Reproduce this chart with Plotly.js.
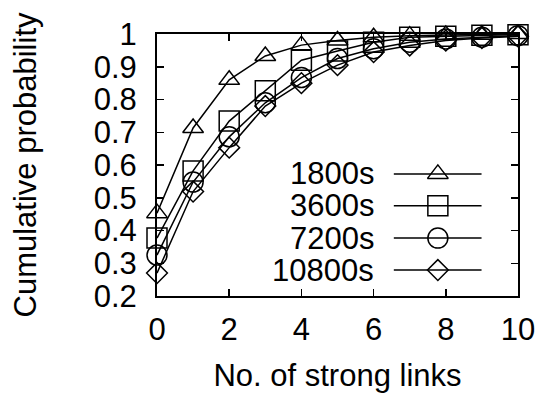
<!DOCTYPE html>
<html>
<head>
<meta charset="utf-8">
<script src="https://cdn.plot.ly/plotly-3.0.1.min.js"></script>
<style>
  html, body { margin: 0; padding: 0; background: #fff; }
  #chart { width: 541px; height: 396px; }
</style>
</head>
<body>
<div id="chart"></div>
<script>
// Number of strong links (x) and the cumulative probability for each window length
const strongLinks = [0, 1, 2, 3, 4, 5, 6, 7, 8, 9, 10];
const cdf1800  = [0.453, 0.713, 0.860, 0.933, 0.966, 0.980, 0.990, 0.995, 0.997, 0.998, 1.000];
const cdf3600  = [0.377, 0.582, 0.734, 0.827, 0.920, 0.948, 0.975, 0.990, 0.993, 0.996, 0.998];
const cdf7200  = [0.325, 0.548, 0.686, 0.790, 0.867, 0.925, 0.955, 0.975, 0.985, 0.990, 0.995];
const cdf10800 = [0.270, 0.519, 0.653, 0.780, 0.850, 0.905, 0.945, 0.965, 0.980, 0.988, 0.993];

const seriesNames = ['1800s', '3600s', '7200s', '10800s'];
const seriesSymbols = ['triangle-up-open', 'square-open', 'circle-open', 'diamond-open'];
const seriesSizes = [18, 20, 20, 16];

const xTickVals = [0, 2, 4, 6, 8, 10];
const yTickVals = [0.2, 0.3, 0.4, 0.5, 0.6, 0.7, 0.8, 0.9, 1];
const yTickText = ['0.2', '0.3', '0.4', '0.5', '0.6', '0.7', '0.8', '0.9', '1'];

const FONT = 'Liberation Sans, Arial, Helvetica, sans-serif';
const INK = '#000';

const allSeries = [cdf1800, cdf3600, cdf7200, cdf10800];

const traces = allSeries.map((ys, i) => ({
  type: 'scatter',
  mode: 'lines+markers',
  x: strongLinks,
  y: ys,
  name: seriesNames[i],
  showlegend: false,
  cliponaxis: false,
  line: { color: INK, width: 1.5 },
  marker: {
    symbol: seriesSymbols[i],
    size: seriesSizes[i],
    color: INK,
    line: { color: INK, width: 1.5 }
  }
}));

// Hand-made key: text right-aligned to the left of a line sample with its marker,
// drawn on a hidden 0..1 overlay axis that spans the plotting area.
const keyRows = [0.466, 0.344, 0.221, 0.099];
const keyLineX = [0.656, 0.778, 0.899];
const keyTextX = 0.607;
const annotations = [];
seriesNames.forEach((nm, i) => {
  traces.push({
    type: 'scatter',
    mode: 'lines',
    xaxis: 'x2', yaxis: 'y2',
    x: [keyLineX[0], keyLineX[2]],
    y: [keyRows[i], keyRows[i]],
    showlegend: false,
    hoverinfo: 'skip',
    line: { color: INK, width: 1.5 }
  });
  traces.push({
    type: 'scatter',
    mode: 'markers',
    xaxis: 'x2', yaxis: 'y2',
    x: [keyLineX[1]],
    y: [keyRows[i]],
    showlegend: false,
    hoverinfo: 'skip',
    cliponaxis: false,
    marker: {
      symbol: seriesSymbols[i],
      size: seriesSizes[i],
      color: INK,
      line: { color: INK, width: 1.5 }
    }
  });
  annotations.push({
    xref: 'x2', yref: 'y2',
    x: keyTextX, y: keyRows[i],
    xanchor: 'right', yanchor: 'middle',
    text: nm, showarrow: false,
    font: { family: FONT, size: 31, color: INK }
  });
});

const axisCommon = {
  showline: true,
  linecolor: INK,
  linewidth: 2,
  mirror: 'ticks',
  ticks: 'inside',
  ticklen: 7,
  tickwidth: 1.5,
  tickcolor: INK,
  showgrid: false,
  zeroline: false,
  tickfont: { family: FONT, size: 31, color: INK }
};

const layout = {
  width: 541,
  height: 396,
  margin: { l: 157, r: 23, t: 34, b: 100 },
  paper_bgcolor: '#fff',
  plot_bgcolor: '#fff',
  font: { family: FONT, size: 31, color: INK },
  showlegend: false,
  xaxis: Object.assign({}, axisCommon, {
    range: [0, 10],
    tickmode: 'array',
    tickvals: xTickVals,
    ticklabelstandoff: 5,
    title: { text: 'No. of strong links', font: { family: FONT, size: 31, color: INK }, standoff: 18 }
  }),
  yaxis: Object.assign({}, axisCommon, {
    range: [0.2, 1],
    tickmode: 'array',
    tickvals: yTickVals,
    ticktext: yTickText,
    ticklabelstandoff: 12,
    title: { text: 'Cumulative probability', font: { family: FONT, size: 31, color: INK }, standoff: 48 }
  }),
  xaxis2: { overlaying: 'x', range: [0, 1], visible: false, fixedrange: true },
  yaxis2: { overlaying: 'y', range: [0, 1], visible: false, fixedrange: true },
  annotations: annotations
};

Plotly.newPlot('chart', traces, layout, { displayModeBar: false, staticPlot: true });
</script>
</body>
</html>
